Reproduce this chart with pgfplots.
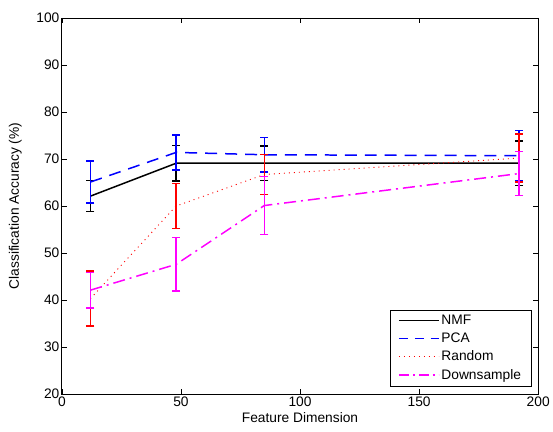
\documentclass[border=0pt]{standalone}
\usepackage{pgfplots}
\pgfplotsset{compat=1.18}
\usepackage{fontspec}
\setmainfont{Liberation Sans}
\definecolor{mblue}{rgb}{0,0,1}
\definecolor{mred}{rgb}{1,0,0}
\definecolor{mmag}{rgb}{1,0,1}
\begin{document}
\begin{tikzpicture}[font=\fontsize{13.8}{16}\selectfont]
\path (-62pt,-38pt) rectangle (491pt,395pt);
\begin{axis}[
  scale only axis, width=477.5pt, height=377pt,
  xmin=0, xmax=200, ymin=20, ymax=100,
  xtick={0,50,100,150,200}, ytick={20,30,...,100},
  tick align=inside, major tick length=5pt,
  /pgf/number format/assume math mode=true,
  axis line style={line width=0.8pt}, tick style={line width=0.6pt, black},
  xlabel={Feature Dimension}, ylabel={Classification Accuracy (\%)},
  xlabel style={at={(axis description cs:0.5,0)}, anchor=base, yshift=-29pt},
  ylabel style={at={(axis description cs:0,0.5)}, anchor=base, yshift=43pt},
  yticklabel style={xshift=1pt}, xticklabel style={yshift=1pt},
  legend style={at={(1,0)}, anchor=south east, xshift=-7pt, yshift=8pt,
    draw=black, cells={anchor=west}, row sep=3pt, inner xsep=8pt, inner ysep=3pt},
  legend cell align=left,
  every axis plot/.append style={error bars/error bar style={solid, line width=1.5pt},
    error bars/error mark options={rotate=90, mark size=4pt, line width=1.5pt, solid}},
  legend image code/.code={\draw[#1] (0cm,0cm) -- (40pt,0cm);},
]
\addlegendimage{black, line width=1.5pt}
\addlegendentry{NMF}
\addlegendimage{mblue, line width=1.5pt, dash pattern=on 9pt off 7pt}
\addlegendentry{PCA}
\addlegendimage{mred, line width=0.9pt, dash pattern=on 1pt off 4pt}
\addlegendentry{Random}
\addlegendimage{mmag, line width=1.5pt, dash pattern=on 10pt off 4pt on 2pt off 4pt}
\addlegendentry{Downsample}
\addplot[forget plot, black, line width=1.5pt, error bars/.cd, y dir=both, y explicit]
  table[x=x, y=y, y error=e] {
x y e
12 62.1 3.3
48 69.1 3.8
85 69.1 3.7
192 69.1 4.7
};
\addplot[forget plot, mblue, line width=1.5pt, dash pattern=on 12pt off 8pt, error bars/.cd, y dir=both, y explicit]
  table[x=x, y=y, y error=e] {
x y e
12 65.1 4.5
48 71.4 3.75
85 70.9 3.7
192 70.7 5.4
};
\addplot[forget plot, mred, line width=0.9pt, dash pattern=on 1pt off 4pt, error bars/.cd, y dir=both, y explicit]
  table[x=x, y=y, y error=e] {
x y e
12 40.3 5.85
48 60.0 4.75
85 66.7 4.3
192 70.2 5.1
};
\addplot[forget plot, mmag, line width=1.5pt, dash pattern=on 12pt off 5pt on 2pt off 5pt, error bars/.cd, y dir=both, y explicit]
  table[x=x, y=y, y error=e] {
x y e
12 42.1 3.8
48 47.6 5.7
85 60.1 6.2
192 66.9 4.65
};
\end{axis}
\end{tikzpicture}
\end{document}
